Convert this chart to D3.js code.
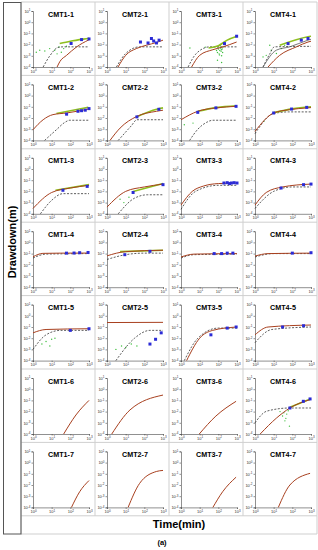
<!DOCTYPE html>
<html>
<head>
<meta charset="utf-8">
<script src="https://cdnjs.cloudflare.com/ajax/libs/d3/7.8.5/d3.min.js"></script>
<style>
  body { margin: 0; background: #fff; }
  svg { display: block; font-family: Arial, "Liberation Sans", sans-serif; }
</style>
</head>
<body>
<svg id="chart" width="318" height="550"></svg>
<script>
// panel titles, row by row
const titles = [
  "CMT1-1", "CMT2-1", "CMT3-1", "CMT4-1",
  "CMT1-2", "CMT2-2", "CMT3-2", "CMT4-2",
  "CMT1-3", "CMT2-3", "CMT3-3", "CMT4-3",
  "CMT1-4", "CMT2-4", "CMT3-4", "CMT4-4",
  "CMT1-5", "CMT2-5", "CMT3-5", "CMT4-5",
  "CMT1-6", "CMT2-6", "CMT3-6", "CMT4-6",
  "CMT1-7", "CMT2-7", "CMT3-7", "CMT4-7"
];

const xTicks = [1, 10, 100, 1000];
const xExp = ["0", "1", "2", "3"];
const yTicks = [1e-4, 1e-3, 1e-2, 1e-1, 1, 10];
const yExp = ["-4", "-3", "-2", "-1", "0", "1"];

// [time(min), drawdown(m)] per panel
const redCurve = [
  [[19.5, 1e-4], [28, 3.2e-4], [63, 1.1e-3], [219, 6.3e-3], [912, 0.025], [1000, 0.027]],
  [[3.9, 1e-4], [10, 1.1e-3], [37, 4.4e-3], [126, 8.7e-3], [479, 0.016], [1000, 0.025]],
  [[3.7, 1e-4], [10, 1.1e-3], [51, 3.5e-3], [178, 6.3e-3], [955, 0.017]],
  [[5, 1e-4], [21, 1.1e-3], [166, 6.3e-3], [692, 0.017], [1000, 0.02]],
  [[1, 8.9e-4], [3.5, 7e-3], [11.7, 0.02], [63, 0.028], [912, 0.063]],
  [[1.45, 1e-4], [5, 1.26e-3], [40, 0.014], [457, 0.04], [1000, 0.05]],
  [[1, 7e-3], [7.9, 0.04], [79, 0.08], [955, 0.11]],
  [[1, 6.3e-4], [10, 0.028], [74, 0.056], [589, 0.079], [1000, 0.085]],
  [[1, 3e-4], [10, 8e-3], [100, 0.02], [1000, 0.035]],
  [[1, 4e-4], [10, 0.01], [100, 0.025], [1000, 0.045]],
  [[1, 6e-4], [4, 0.01], [16, 0.03], [100, 0.05], [1000, 0.056]],
  [[1, 6e-4], [4, 8e-3], [30, 0.025], [1000, 0.045]],
  [[1, 0.052], [3.4, 0.105], [30, 0.11], [1000, 0.112]],
  [[1, 0.063], [10, 0.15], [1000, 0.2]],
  [[1, 0.05], [5, 0.09], [1000, 0.1]],
  [[1, 0.06], [5, 0.1], [1000, 0.11]],
  [[1, 0.03], [5, 0.06], [1000, 0.07]],
  [[1, 0.25], [1000, 0.26]],
  [[2, 1e-4], [10, 0.01], [50, 0.05], [1000, 0.1]],
  [[1, 0.02], [5, 0.1], [1000, 0.15]],
  [[44, 1e-4], [200, 5e-3], [1000, 0.1]],
  [[1.8, 1e-4], [17, 0.014], [1000, 0.3]],
  [[9.5, 1e-4], [74, 4e-3], [891, 0.083]],
  [[1.9, 1e-4], [14.5, 2.75e-3], [74, 0.021], [891, 0.117]],
  [[115, 1e-4], [316, 2.5e-3], [1000, 0.025]],
  [[13.5, 1e-4], [56, 0.014], [437, 0.16], [1000, 0.2]],
  [[51, 1e-4], [170, 2.5e-3], [891, 0.05]],
  [[17.8, 1e-4], [74, 0.01], [891, 0.11]]
];

const dashCurve = [
  [[3.5, 1e-4], [8, 1e-3], [22, 5.6e-3], [40, 6.3e-3], [1000, 6.3e-3]],
  [[3.2, 1e-4], [10, 1.6e-3], [56, 6.3e-3], [1000, 6.3e-3]],
  [[2.4, 1e-4], [6.6, 1.6e-3], [35, 6.3e-3], [1000, 6.3e-3]],
  [[2.7, 1e-4], [6.2, 1.5e-3], [11, 6.3e-3], [1000, 7e-3]],
  [[4.2, 1e-4], [18, 9e-4], [50, 4e-3], [93, 6.3e-3], [1000, 6.3e-3]],
  [[4, 1e-4], [20, 2e-3], [40, 7e-3], [1000, 7e-3]],
  [[2.9, 1e-4], [8, 1e-3], [23, 4e-3], [50, 6.3e-3], [1000, 6.3e-3]],
  [[1, 4e-4], [10, 0.025], [60, 0.035], [1000, 0.035]],
  [[2.5, 1e-4], [10, 1.6e-3], [40, 6.3e-3], [1000, 6.3e-3]],
  [[4, 1e-4], [30, 2.5e-3], [150, 5e-3], [1000, 5e-3]],
  [[1, 2.5e-4], [6, 0.01], [100, 0.035], [1000, 0.035]],
  [[1, 3e-4], [10, 0.01], [100, 0.025], [1000, 0.025]],
  [[1, 0.04], [5, 0.09], [1000, 0.1]],
  [[1, 0.03], [10, 0.08], [100, 0.11], [1000, 0.11]],
  [[1, 0.04], [5, 0.08], [1000, 0.09]],
  [[1, 0.05], [10, 0.1], [1000, 0.1]],
  [[1, 1e-3], [5, 0.02], [30, 0.05], [1000, 0.05]],
  [[3, 1e-4], [30, 0.01], [200, 0.05], [1000, 0.05]],
  [[1.5, 1e-4], [8, 0.01], [100, 0.08], [1000, 0.08]],
  [[1, 4e-3], [8, 0.06], [1000, 0.1]],
  [], [], [],
  [[1, 1e-3], [4.3, 0.011], [74, 0.021], [1000, 0.021]],
  [], [], [], []
];

const oliveLine = [
  [[27, 0.0126], [100, 0.02], [891, 0.035], [1000, 0.036]],
  [],
  [[30, 5e-3], [100, 8e-3], [300, 0.025], [1000, 0.055]],
  [[21, 8.7e-3], [692, 0.05], [1000, 0.055]],
  [[18, 0.025], [912, 0.09]],
  [[40, 0.013], [457, 0.06], [1000, 0.08]],
  [[7.9, 0.04], [79, 0.085], [955, 0.12]],
  [[10, 0.03], [100, 0.065], [1000, 0.1]],
  [[16, 0.0126], [1000, 0.04]],
  [[25, 0.01], [1000, 0.05]],
  [], [], [],
  [[5, 0.15], [1000, 0.2]],
  [], [], [], [], [], [], [], [], [],
  [[74, 0.025], [1000, 0.14]],
  [], [], [], []
];

const grayCurve = [
  [], [], [],
  [[2.7, 1e-4], [14, 3.2e-3], [72, 6.3e-3], [692, 0.025], [1000, 0.03]],
  [], [], [], [], [], [], [], [], [], [], [], [], [], [], [], [], [], [], [], [], [], [], [], []
];

const greenDots = [
  [[1.5, 2.1e-3], [2.3, 3.1e-3], [4.3, 2.7e-3], [7.8, 4.4e-3], [14.5, 3.1e-3], [19.5, 1.5e-3],
   [24.5, 6.2e-3], [33, 2.1e-3], [44, 4.4e-3], [62, 7.1e-3]],
  [],
  [[3, 5e-3], [20, 6e-3], [80, 3e-3], [90, 2e-3], [100, 4e-3], [110, 1.5e-3], [120, 3e-3], [130, 5e-3],
   [140, 2.5e-3], [150, 1e-3], [160, 4e-3], [170, 2e-3], [180, 6e-3], [95, 6e-3], [125, 8e-3],
   [115, 1.2e-3], [145, 3.5e-3], [135, 5.5e-3], [90, 4e-4], [150, 2.5e-4]],
  [[2.7, 8e-4], [4, 1.1e-3], [6.2, 8.7e-3], [7.4, 3.2e-3], [14, 1.6e-3], [26, 4.5e-3], [39, 8.7e-3]],
  [], [],
  [[1.5, 2.5e-3], [4.4, 3.5e-3]],
  [[3, 5e-3]],
  [],
  [[5, 2e-3], [8, 1e-3], [15, 3e-3]],
  [], [], [], [], [], [],
  [[3, 3e-3], [5, 5e-3], [8, 2e-3], [10, 8e-3], [15, 0.01]],
  [[3, 1e-3], [6, 2e-3], [10, 1.5e-3], [20, 3e-3], [40, 2e-3]],
  [], [], [], [], [],
  [[22, 0.01], [30, 4e-3], [40, 1.5e-3], [50, 6e-3], [60, 0.012], [45, 2.5e-3], [35, 8e-3], [70, 5e-4]],
  [], [], [], []
];

const blueSquares = [
  [[110, 0.0126], [400, 0.028], [1000, 0.032]],
  [[62, 0.017], [158, 0.014], [240, 0.035], [316, 0.021], [447, 0.014], [617, 0.025]],
  [[214, 0.0123], [955, 0.056]],
  [[59, 0.0123], [302, 0.025], [692, 0.035]],
  [[63, 0.022], [257, 0.04], [400, 0.045], [630, 0.05], [1000, 0.069]],
  [[40, 0.0126], [600, 0.06]],
  [[7.9, 0.032], [74, 0.08], [890, 0.11]],
  [[10, 0.028], [91, 0.063], [589, 0.089]],
  [[40, 0.0126], [800, 0.028]],
  [[25, 8e-3], [1000, 0.04]],
  [[200, 0.056], [300, 0.06], [400, 0.05], [500, 0.056], [700, 0.06], [1000, 0.056]],
  [[25, 0.02], [400, 0.04], [1000, 0.045]],
  [[62, 0.11], [158, 0.112], [316, 0.12], [891, 0.126]],
  [[9, 0.08], [200, 0.16]],
  [[60, 0.1], [150, 0.1], [300, 0.11], [600, 0.11]],
  [[100, 0.11], [1000, 0.12]],
  [[100, 0.05], [1000, 0.07]],
  [[200, 3e-3], [400, 8e-3], [800, 0.03]],
  [[40, 0.02], [300, 0.08], [900, 0.1]],
  [[30, 0.1], [400, 0.13]],
  [], [], [],
  [[74, 0.021], [389, 0.083], [891, 0.135]],
  [], [], [], []
];

const svg = d3.select("#chart");
const gridLeft = 21, gridTop = 2, cellW = 74, cellH = 73.4;
const gridBottom = gridTop + cellH * 7;

// frame lines
const frame = svg.append("g").attr("stroke", "#cfcfcf").attr("stroke-width", 1).attr("fill", "none");
for (let c = 0; c <= 4; c++) {
  frame.append("line")
    .attr("x1", gridLeft + c * cellW).attr("x2", gridLeft + c * cellW)
    .attr("y1", gridTop).attr("y2", c === 0 ? 534 : gridBottom);
}
for (let r = 0; r <= 7; r++) {
  frame.append("line")
    .attr("x1", gridLeft).attr("x2", gridLeft + 4 * cellW)
    .attr("y1", gridTop + r * cellH).attr("y2", gridTop + r * cellH);
}
frame.append("line").attr("x1", gridLeft).attr("x2", gridLeft + 4 * cellW).attr("y1", 534).attr("y2", 534);
frame.append("line").attr("x1", gridLeft + 4 * cellW).attr("x2", gridLeft + 4 * cellW).attr("y1", gridBottom).attr("y2", 534);

// left label box
svg.append("rect")
  .attr("x", 3.5).attr("y", 2.5).attr("width", 17.5).attr("height", 531.5)
  .attr("fill", "none").attr("stroke", "#555").attr("stroke-width", 1);

svg.append("text")
  .attr("transform", "translate(16,242) rotate(-90)")
  .attr("text-anchor", "middle")
  .attr("font-size", 11).attr("font-weight", "bold")
  .text("Drawdown(m)");

svg.append("text")
  .attr("x", 179).attr("y", 528)
  .attr("text-anchor", "middle")
  .attr("font-size", 11).attr("font-weight", "bold")
  .text("Time(min)");

svg.append("text")
  .attr("x", 162).attr("y", 545)
  .attr("text-anchor", "middle")
  .attr("font-size", 7.5).attr("font-weight", "bold")
  .text("(a)");

const x = d3.scaleLog().domain([1, 1000]).range([12, 68]);
const y = d3.scaleLog().domain([1e-4, 10]).range([65, 9]);

const line = d3.line()
  .x(d => x(d[0]))
  .y(d => y(d[1]))
  .curve(d3.curveMonotoneX);

function supLabel(sel, exps) {
  sel.selectAll(".tick text").each(function(d, i) {
    const t = d3.select(this);
    t.text(null);
    t.append("tspan").text("10");
    t.append("tspan").attr("dy", "-0.45em").attr("font-size", "3px").text(exps[i]);
  });
}

titles.forEach((title, i) => {
  const r = Math.floor(i / 4), c = i % 4;
  const g = svg.append("g")
    .attr("transform", `translate(${gridLeft + c * cellW},${gridTop + r * cellH})`);

  g.append("text")
    .attr("x", 40).attr("y", 14.5)
    .attr("text-anchor", "middle")
    .attr("font-size", 7.2).attr("font-weight", "bold")
    .text(title);

  const yAxis = g.append("g")
    .attr("transform", `translate(${x.range()[0]},0)`)
    .call(d3.axisLeft(y).tickValues(yTicks).tickSize(1.5).tickPadding(1));
  supLabel(yAxis, yExp);

  const xAxis = g.append("g")
    .attr("transform", `translate(0,${y.range()[0]})`)
    .call(d3.axisBottom(x).tickValues(xTicks).tickSize(1.5).tickPadding(0.5));
  supLabel(xAxis, xExp);

  [yAxis, xAxis].forEach(a => {
    a.selectAll("path, line").attr("stroke", "#444").attr("stroke-width", 0.6);
    a.selectAll("text").attr("font-size", 4).attr("fill", "#333").attr("font-family", "Arial, sans-serif");
  });
  xAxis.selectAll(".tick text").attr("dy", "0.9em");

  const plot = g.append("g");

  plot.selectAll(".gdot")
    .data(greenDots[i])
    .enter().append("circle")
    .attr("cx", d => x(d[0])).attr("cy", d => y(d[1]))
    .attr("r", 0.7).attr("fill", "#3fbf3f");

  if (dashCurve[i].length) {
    plot.append("path").attr("d", line(dashCurve[i]))
      .attr("fill", "none").attr("stroke", "#333").attr("stroke-width", 0.8)
      .attr("stroke-dasharray", "2,1.5");
  }
  if (grayCurve[i].length) {
    plot.append("path").attr("d", line(grayCurve[i]))
      .attr("fill", "none").attr("stroke", "#555").attr("stroke-width", 0.8);
  }
  if (oliveLine[i].length) {
    plot.append("path").attr("d", line(oliveLine[i]))
      .attr("fill", "none").attr("stroke", "#8fbf1f").attr("stroke-width", 1.6);
  }
  plot.append("path").attr("d", line(redCurve[i]))
    .attr("fill", "none").attr("stroke", "#a8401f").attr("stroke-width", 1);

  plot.selectAll(".bsq")
    .data(blueSquares[i])
    .enter().append("rect")
    .attr("x", d => x(d[0]) - 1.5).attr("y", d => y(d[1]) - 1.5)
    .attr("width", 3).attr("height", 3)
    .attr("fill", "#2b2bd6");
});
</script>
</body>
</html>
